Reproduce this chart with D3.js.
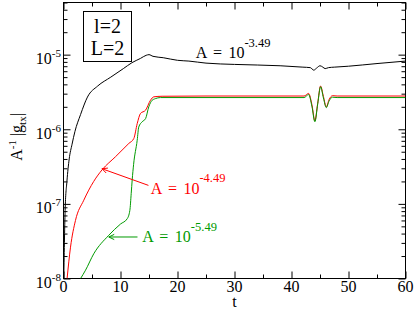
<!DOCTYPE html>
<html>
<head>
<meta charset="utf-8">
<script src="https://cdn.jsdelivr.net/npm/d3@7"></script>
<style>
  body { margin: 0; background: #fff; }
  svg text { font-family: 'Liberation Serif', 'Times New Roman', serif; }
</style>
</head>
<body>
<div id="app"></div>
<script>
// ---- data ----
var tBlack = [0.05, 0.3, 0.6, 1.0, 1.5, 2.0, 3.0, 4.2, 6.0, 8.3, 10.5, 12.0, 13.5, 14.5, 15.0, 15.7, 17.5, 20, 22, 25, 30, 38, 42, 43.3, 43.9, 44.4, 45.0, 45.5, 45.9, 46.5, 47.5, 50, 55, 60];
var gBlack = [1e-8, 8.9e-8, 2.0e-7, 4.0e-7, 6.3e-7, 9.3e-7, 1.58e-6, 2.7e-6, 3.8e-6, 5.0e-6, 6.5e-6, 7.8e-6, 8.9e-6, 9.8e-6, 1.0e-5, 9.5e-6, 9.1e-6, 8.4e-6, 8.2e-6, 7.7e-6, 7.4e-6, 7.1e-6, 6.8e-6, 6.7e-6, 6.2e-6, 6.6e-6, 7.1e-6, 6.8e-6, 6.5e-6, 6.7e-6, 6.8e-6, 7.0e-6, 7.6e-6, 8.2e-6];

var tRed = [0.63, 1.23, 2.1, 3.56, 5.3, 6.8, 9.1, 11.46, 12.33, 12.93, 13.51, 14.39, 15.26, 15.84, 17.3, 25, 42.2, 43.0, 43.6, 44.1, 44.6, 45.1, 45.6, 46.1, 46.6, 47.2, 48, 60];
var gRed = [1e-8, 2.63e-8, 6.0e-8, 1.12e-7, 2.0e-7, 2.88e-7, 4.27e-7, 6.46e-7, 7.5e-7, 1.19e-6, 1.63e-6, 1.80e-6, 2.45e-6, 2.72e-6, 2.77e-6, 2.79e-6, 2.79e-6, 3.02e-6, 2.1e-6, 1.29e-6, 2.24e-6, 3.80e-6, 2.75e-6, 2.0e-6, 2.51e-6, 2.82e-6, 2.79e-6, 2.79e-6];

var tGreen = [3.0, 3.86, 5.3, 7.95, 10.0, 11.17, 11.64, 11.88, 12.05, 12.3, 12.93, 13.2, 13.8, 14.4, 14.96, 15.56, 16.1, 17.0, 25, 42.2, 43.0, 43.6, 44.1, 44.6, 45.1, 45.6, 46.1, 46.6, 47.2, 48, 60];
var gGreen = [1e-8, 1.29e-8, 2.14e-8, 3.8e-8, 5.37e-8, 6.31e-8, 8.18e-8, 1.38e-7, 2.09e-7, 3.39e-7, 7.13e-7, 1.07e-6, 1.26e-6, 1.39e-6, 2.0e-6, 2.45e-6, 2.57e-6, 2.66e-6, 2.66e-6, 2.66e-6, 2.92e-6, 2.0e-6, 1.26e-6, 2.19e-6, 3.72e-6, 2.63e-6, 1.95e-6, 2.40e-6, 2.69e-6, 2.66e-6, 2.66e-6];

var xTicks = [0, 10, 20, 30, 40, 50, 60];
var xMinor = [5, 15, 25, 35, 45, 55];
var yMajor = [1e-8, 1e-7, 1e-6, 1e-5];
var yExp = ["-8", "-7", "-6", "-5"];
var amps = ["-3.49", "-4.49", "-5.49"];
var legendLines = ["l=2", "L=2"];

var colors = ["#000000", "#ff0000", "#009a00"];

var width = 415, height = 310;

var x = d3.scaleLinear().domain([0, 60]).range([63.5, 405.5]);
var y = d3.scaleLog().domain([1e-8, 5e-5]).range([278.5, 2.5]);

var svg = d3.select('#app').append('svg').attr('width', width).attr('height', height);

svg.append('clipPath').attr('id', 'plot')
  .append('rect').attr('x', x(0)).attr('y', y(5e-5)).attr('width', x(60) - x(0)).attr('height', y(1e-8) - y(5e-5));

// ticks, all pointing inward
function noDomain(g) { g.select('.domain').remove(); g.selectAll('line').attr('stroke', '#000'); }
var yMinor = y.ticks().filter(function(d) { return yMajor.indexOf(d) < 0; });

svg.append('g').attr('transform', 'translate(0,' + y(1e-8) + ')')
  .call(d3.axisBottom(x).tickValues(xTicks).tickSize(-7).tickFormat('')).call(noDomain);
svg.append('g').attr('transform', 'translate(0,' + y(1e-8) + ')')
  .call(d3.axisBottom(x).tickValues(xMinor).tickSize(-4).tickFormat('')).call(noDomain);
svg.append('g').attr('transform', 'translate(0,' + y(5e-5) + ')')
  .call(d3.axisTop(x).tickValues(xTicks).tickSize(-7).tickFormat('')).call(noDomain);
svg.append('g').attr('transform', 'translate(0,' + y(5e-5) + ')')
  .call(d3.axisTop(x).tickValues(xMinor).tickSize(-4).tickFormat('')).call(noDomain);
svg.append('g').attr('transform', 'translate(' + x(0) + ',0)')
  .call(d3.axisLeft(y).tickValues(yMajor).tickSize(-7).tickFormat('')).call(noDomain);
svg.append('g').attr('transform', 'translate(' + x(0) + ',0)')
  .call(d3.axisLeft(y).tickValues(yMinor).tickSize(-4).tickFormat('')).call(noDomain);
svg.append('g').attr('transform', 'translate(' + x(60) + ',0)')
  .call(d3.axisRight(y).tickValues(yMajor).tickSize(-7).tickFormat('')).call(noDomain);
svg.append('g').attr('transform', 'translate(' + x(60) + ',0)')
  .call(d3.axisRight(y).tickValues(yMinor).tickSize(-4).tickFormat('')).call(noDomain);

svg.append('rect')
  .attr('x', x(0)).attr('y', y(5e-5))
  .attr('width', x(60) - x(0)).attr('height', y(1e-8) - y(5e-5))
  .attr('fill', 'none').attr('stroke', '#000').attr('stroke-width', 1);

// tick labels
svg.selectAll('.xl').data(xTicks).enter().append('text')
  .attr('x', function(d) { return x(d); }).attr('y', 292)
  .attr('text-anchor', 'middle').attr('font-size', 16)
  .text(function(d) { return d; });

var yl = svg.selectAll('.yl').data(yMajor).enter().append('text')
  .attr('x', 61).attr('y', function(d) { return y(d) + 9.5; })
  .attr('text-anchor', 'end').attr('font-size', 16);
yl.append('tspan').text('10');
yl.append('tspan').attr('dy', -7).attr('font-size', 11).text(function(d, i) { return yExp[i]; });

// axis titles
svg.append('text')
  .attr('x', (x(0) + x(60)) / 2).attr('y', 306.5)
  .attr('text-anchor', 'middle').attr('font-size', 16).text('t');

var yt = svg.append('text')
  .attr('transform', 'translate(21.5,137) rotate(-90)')
  .attr('text-anchor', 'middle').attr('font-size', 16);
yt.append('tspan').text('A');
yt.append('tspan').attr('dy', -6).attr('font-size', 11).text('-1');
yt.append('tspan').attr('dy', 6).attr('font-size', 16).text(' |g');
yt.append('tspan').attr('dy', 4).attr('font-size', 11).text('tx');
yt.append('tspan').attr('dy', -4).attr('font-size', 16).text('|');

// curves
var line = d3.line()
  .x(function(d) { return x(d[0]); })
  .y(function(d) { return y(d[1]); })
  .curve(d3.curveMonotoneX);

var series = [d3.zip(tBlack, gBlack), d3.zip(tRed, gRed), d3.zip(tGreen, gGreen)];
svg.append('g').attr('clip-path', 'url(#plot)')
  .selectAll('path').data(series).enter().append('path')
  .attr('d', line)
  .attr('fill', 'none')
  .attr('stroke', function(d, i) { return colors[i]; })
  .attr('stroke-width', 1);

// annotations: [text t, text value, arrow tail t, arrow tail v, arrow tip t, arrow tip v]
var notes = [
  [23.2, 8.9e-6, null, null, null, null],
  [15.3, 1.37e-7, 14.9, 1.77e-7, 6.75, 2.96e-7],
  [13.8, 3.07e-8, 12.98, 3.6e-8, 7.95, 3.6e-8]
];

notes.forEach(function(n, i) {
  var t = svg.append('text')
    .attr('x', x(n[0])).attr('y', y(n[1]))
    .attr('font-size', 16).attr('fill', colors[i])
    .style('word-spacing', '2.5px');
  t.append('tspan').text('A = 10');
  t.append('tspan').attr('dy', -11.5).attr('font-size', 12.5).text(amps[i]);
  if (n[2] != null) {
    var x1 = x(n[2]), y1 = y(n[3]), x2 = x(n[4]), y2 = y(n[5]);
    svg.append('line').attr('x1', x1).attr('y1', y1).attr('x2', x2).attr('y2', y2)
      .attr('stroke', colors[i]).attr('stroke-width', 1);
    var a = Math.atan2(y1 - y2, x1 - x2), L = 6, w = 0.45;
    svg.append('path')
      .attr('d', 'M' + (x2 + L * Math.cos(a + w)) + ',' + (y2 + L * Math.sin(a + w)) +
                 'L' + x2 + ',' + y2 +
                 'L' + (x2 + L * Math.cos(a - w)) + ',' + (y2 + L * Math.sin(a - w)))
      .attr('fill', 'none').attr('stroke', colors[i]).attr('stroke-width', 1);
  }
});

// legend box
svg.append('rect').attr('x', 83.5).attr('y', 11.5).attr('width', 48).attr('height', 50)
  .attr('fill', '#fff').attr('stroke', '#000').attr('stroke-width', 1);
svg.selectAll('.lg').data(legendLines).enter().append('text')
  .attr('x', 107.5).attr('y', function(d, i) { return 33 + i * 22; })
  .attr('text-anchor', 'middle').attr('font-size', 20)
  .text(function(d) { return d; });
</script>
</body>
</html>
